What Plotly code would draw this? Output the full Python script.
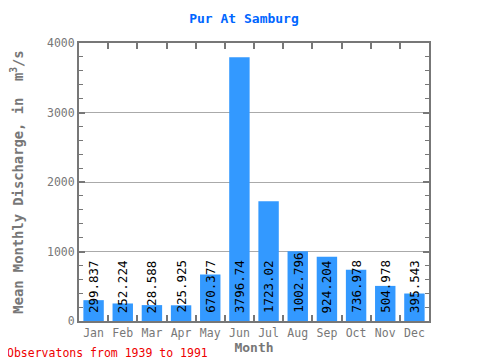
import plotly.graph_objects as go

months = ["Jan", "Feb", "Mar", "Apr", "May", "Jun", "Jul", "Aug", "Sep", "Oct", "Nov", "Dec"]
values = [299.837, 252.224, 228.588, 225.925, 670.377, 3796.74, 1723.02, 1002.796, 924.204, 736.978, 504.978, 395.543]
labels = ["299.837", "252.224", "228.588", "225.925", "670.377", "3796.74", "1723.02", "1002.796", "924.204", "736.978", "504.978", "395.543"]

FONT = "DejaVu Sans Mono"
GRAY = "#777777"

fig = go.Figure()
fig.add_trace(go.Bar(x=months, y=values, marker=dict(color="#3399ff", line=dict(width=0)),
                     hoverinfo="x+y"))

for m, lab in zip(months, labels):
    fig.add_annotation(x=m, y=0, xref="x", yref="y", text=lab, textangle=-90,
                       showarrow=False, xanchor="center", yanchor="bottom", yshift=6,
                       font=dict(family=FONT, size=12.5, color="black"))

fig.add_annotation(x=-74 / 350, y=-23 / 278, xref="paper", yref="paper", xanchor="left", yanchor="top",
                   text="Observatons from 1939 to 1991", showarrow=False,
                   font=dict(family=FONT, size=11.5, color="#ee0000"))

fig.update_layout(
    width=472, height=352,
    margin=dict(l=71, r=51, t=35, b=39),
    paper_bgcolor="white", plot_bgcolor="white",
    bargap=0.3,
    showlegend=False,
    title=dict(text="<b>Pur At Samburg</b>", x=0.5, xanchor="center", y=1 - 10 / 352, yanchor="middle",
               font=dict(family=FONT, size=13, color="#0066ff")),
    font=dict(family=FONT, size=11.5, color=GRAY),
)
fig.update_xaxes(
    title=dict(text="<b>Month</b>", font=dict(family=FONT, size=13, color=GRAY), standoff=0),
    showline=True, linecolor=GRAY, linewidth=2, mirror="ticks",
    ticks="inside", ticklen=6, tickcolor=GRAY, tickwidth=2, tickson="boundaries",
    tickfont=dict(family=FONT, size=11.5, color=GRAY), tickangle=0,
    showgrid=False, automargin=False,
)
fig.update_yaxes(
    title=dict(text="<b>Mean Monthly Discharge, in  m<sup>3</sup>/s</b>", font=dict(family=FONT, size=13.8, color=GRAY), standoff=20),
    range=[0, 4000], tickvals=[0, 1000, 2000, 3000, 4000],
    showline=True, linecolor=GRAY, linewidth=2, mirror="ticks",
    ticks="inside", ticklen=6, tickcolor=GRAY, tickwidth=2,
    minor=dict(dtick=200, ticks="inside", ticklen=4, tickcolor=GRAY, tickwidth=1, showgrid=False),
    showgrid=True, gridcolor="#aaaaaa", gridwidth=1,
    zeroline=False, automargin=False,
    tickfont=dict(family=FONT, size=11.5, color=GRAY),
)

fig.write_html("out.html")
